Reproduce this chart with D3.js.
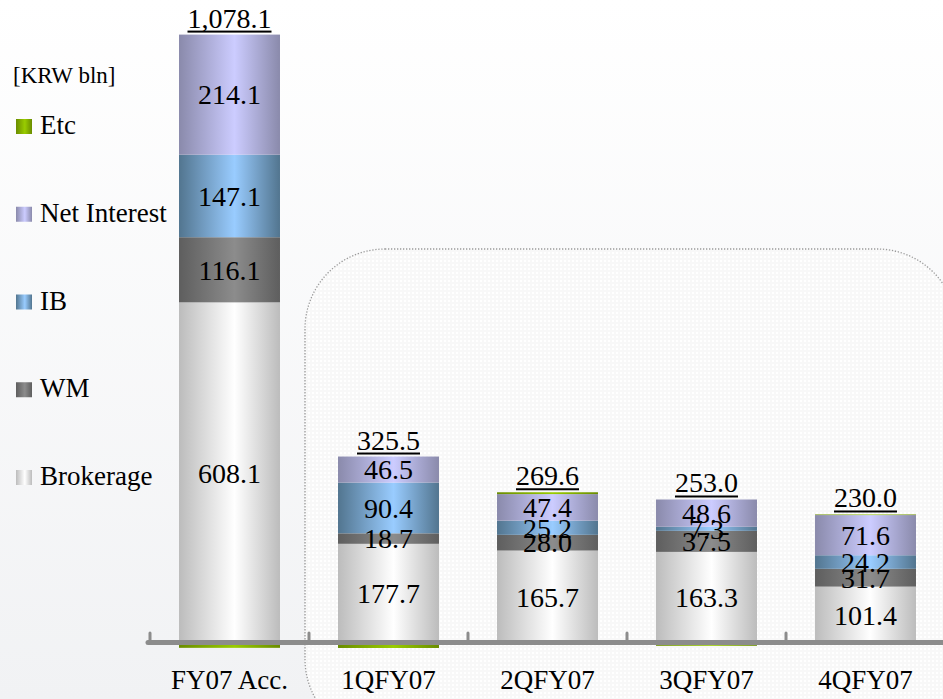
<!DOCTYPE html>
<html>
<head>
<meta charset="utf-8">
<script src="https://cdn.jsdelivr.net/npm/d3@7"></script>
</head>
<body style="margin:0;padding:0;overflow:hidden">
<div id="chart"></div>
<script>
// categories and series (KRW bln)
var categories = ["FY07 Acc.", "1QFY07", "2QFY07", "3QFY07", "4QFY07"];
var brokerage = [608.1, 177.7, 165.7, 163.3, 101.4];
var wm = [116.1, 18.7, 28.0, 37.5, 31.7];
var ib = [147.1, 90.4, 25.2, 7.3, 24.2];
var netInterest = [214.1, 46.5, 47.4, 48.6, 71.6];
var etc = [-7.3, -7.8, 3.3, -3.7, 1.1];
var totals = ["1,078.1", "325.5", "269.6", "253.0", "230.0"];

var seriesNames = ["Brokerage", "WM", "IB", "Net Interest", "Etc"];
var seriesValues = [brokerage, wm, ib, netInterest, etc];
var legendOrder = ["Etc", "Net Interest", "IB", "WM", "Brokerage"];

var colors = {
    "Brokerage": ["#bcbcbc", "#ffffff"],
    "WM": ["#5e5e5e", "#8c8c8c"],
    "IB": ["#52758f", "#99ccff"],
    "Net Interest": ["#8a8aab", "#ccccff"],
    "Etc": ["#6a8c00", "#99cc00"]
};

var FONT = "'Liberation Serif'";
var width = 943, height = 699;

var svg = d3.select("#chart").append("svg")
    .attr("width", width)
    .attr("height", height)
    .style("display", "block")
    .style("font-family", FONT);

var defs = svg.append("defs");

var bg = defs.append("linearGradient")
    .attr("id", "bg")
    .attr("x1", 0).attr("y1", 0).attr("x2", 0).attr("y2", 1);
bg.append("stop").attr("offset", "0%").attr("stop-color", "#ffffff");
bg.append("stop").attr("offset", "100%").attr("stop-color", "#f1f2f4");

seriesNames.forEach(function (name, i) {
    var g = defs.append("linearGradient")
        .attr("id", "grad" + i)
        .attr("x1", 0).attr("y1", 0).attr("x2", 1).attr("y2", 0);
    g.append("stop").attr("offset", "0%").attr("stop-color", colors[name][0]);
    g.append("stop").attr("offset", "55%").attr("stop-color", colors[name][1]);
    g.append("stop").attr("offset", "100%").attr("stop-color", colors[name][0]);
});

var pat = defs.append("pattern")
    .attr("id", "dots")
    .attr("width", 4).attr("height", 4)
    .attr("patternUnits", "userSpaceOnUse");
pat.append("rect").attr("width", 4).attr("height", 4).attr("fill", "#f8f8f8");
pat.append("rect").attr("width", 2).attr("height", 2).attr("fill", "#ffffff");

svg.append("rect")
    .attr("width", width)
    .attr("height", height)
    .attr("fill", "url(#bg)");

// dotted rounded panel around the quarters
svg.append("rect")
    .attr("x", 305).attr("y", 249)
    .attr("width", 652).attr("height", 490)
    .attr("rx", 80).attr("ry", 80)
    .attr("fill", "url(#dots)")
    .attr("stroke", "#9a9a9a")
    .attr("stroke-width", 1.3)
    .attr("stroke-dasharray", "1.3,1.7");

var rows = categories.map(function (c, i) {
    var r = {category: c};
    seriesNames.forEach(function (s, j) { r[s] = seriesValues[j][i]; });
    return r;
});

var x = d3.scaleBand()
    .domain(categories)
    .range([150, 945])
    .paddingInner(0.365)
    .paddingOuter(0.1825);

var y = d3.scaleLinear()
    .domain([0, 1100])
    .range([643.5, 26.4]);

var stacked = d3.stack()
    .keys(seriesNames)
    .offset(d3.stackOffsetDiverging)(rows);

var layer = svg.selectAll(".layer")
    .data(stacked)
    .enter().append("g")
    .attr("class", "layer")
    .attr("fill", function (d, i) { return "url(#grad" + i + ")"; });

layer.selectAll("rect")
    .data(function (d) { return d; })
    .enter().append("rect")
    .attr("x", function (d) { return x(d.data.category); })
    .attr("width", x.bandwidth())
    .attr("y", function (d) { return y(Math.max(d[0], d[1])); })
    .attr("height", function (d) { return Math.abs(y(d[0]) - y(d[1])); });

// segment labels (Etc is not labelled)
stacked.forEach(function (s) {
    if (s.key === "Etc") return;
    svg.selectAll(".lbl-" + s.index)
        .data(s)
        .enter().append("text")
        .attr("x", function (d) { return x(d.data.category) + x.bandwidth() / 2; })
        .attr("y", function (d) { return (y(d[0]) + y(d[1])) / 2; })
        .attr("dy", "0.35em")
        .attr("text-anchor", "middle")
        .style("font-family", FONT)
        .style("font-size", "28px")
        .text(function (d) { return d.data[s.key].toFixed(1); });
});

// axis line and tick stubs at band boundaries
var axisY = 642.5;
svg.append("line")
    .attr("x1", 148).attr("x2", 945)
    .attr("y1", axisY).attr("y2", axisY)
    .attr("stroke", "#8c8c8c")
    .attr("stroke-width", 5)
    .attr("stroke-linecap", "round");

svg.selectAll(".tick-stub")
    .data(categories)
    .enter().append("line")
    .attr("class", "tick-stub")
    .attr("x1", function (d) { return x(d) - x.step() * x.paddingInner() / 2; })
    .attr("x2", function (d) { return x(d) - x.step() * x.paddingInner() / 2; })
    .attr("y1", 633).attr("y2", axisY)
    .attr("stroke", "#8c8c8c")
    .attr("stroke-width", 3)
    .attr("stroke-linecap", "round");

// the negative Etc pieces hang just under the axis line
svg.selectAll(".etc-neg")
    .data(stacked[4].filter(function (d) { return d[0] < 0; }))
    .enter().append("rect")
    .attr("x", function (d) { return x(d.data.category); })
    .attr("width", x.bandwidth())
    .attr("y", axisY + 2.5)
    .attr("height", function (d) { return Math.max(0, y(d[0]) - axisY - 2.5); })
    .attr("fill", "url(#grad4)");

var xAxis = svg.append("g")
    .attr("transform", "translate(0," + 662 + ")")
    .call(d3.axisBottom(x).tickSize(0).tickPadding(0));
xAxis.select(".domain").remove();
xAxis.attr("font-family", "Liberation Serif");
xAxis.selectAll("text")
    .attr("dy", "1em")
    .style("font-family", FONT)
    .style("font-size", "27px")
    .attr("fill", "#000");

// totals, underlined
categories.forEach(function (c, i) {
    var top = d3.sum(seriesValues, function (v) { return v[i] > 0 ? v[i] : 0; });
    var cx = x(c) + x.bandwidth() / 2;
    var base = y(top) - 7;
    var t = svg.append("text")
        .attr("x", cx)
        .attr("y", base)
        .attr("text-anchor", "middle")
        .style("font-family", FONT)
        .style("font-size", "28px")
        .text(totals[i]);
    var w = t.node().getComputedTextLength();
    svg.append("rect")
        .attr("x", cx - w / 2)
        .attr("y", base + 3)
        .attr("width", w)
        .attr("height", 2)
        .attr("fill", "#000");
});

// legend
svg.append("text")
    .attr("x", 13)
    .attr("y", 83)
    .style("font-family", FONT)
    .style("font-size", "23px")
    .text("[KRW bln]");

var legendY = d3.scalePoint()
    .domain(legendOrder)
    .range([134, 485]);

legendOrder.forEach(function (name) {
    var i = seriesNames.indexOf(name);
    svg.append("rect")
        .attr("x", 16)
        .attr("y", legendY(name) - 15)
        .attr("width", 16)
        .attr("height", 15)
        .attr("fill", "url(#grad" + i + ")");
    svg.append("text")
        .attr("x", 40)
        .attr("y", legendY(name))
        .style("font-family", FONT)
        .style("font-size", "27px")
        .text(name);
});
</script>
</body>
</html>
